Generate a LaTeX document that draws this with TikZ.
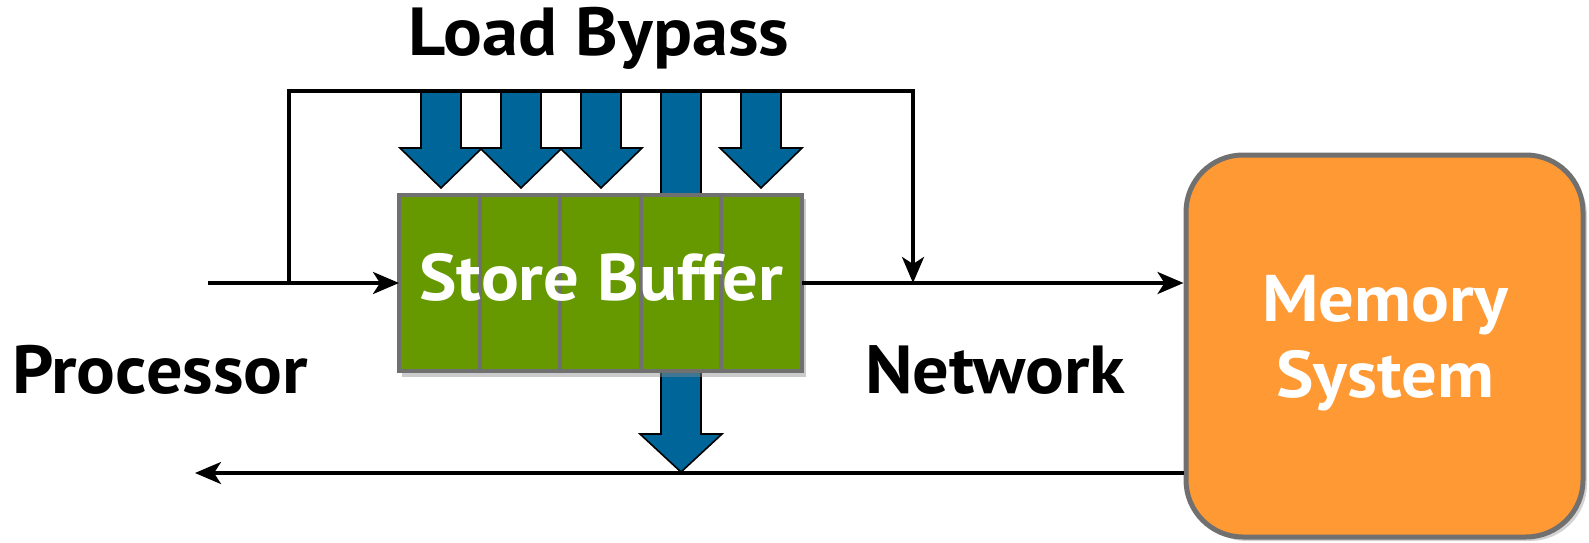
\documentclass[tikz,border=0pt]{standalone}
\usepackage{fontspec}
\setmainfont{PT Sans}
\usetikzlibrary{arrows.meta,shadows}

\definecolor{sbgreen}{HTML}{669900}
\definecolor{sbgray}{HTML}{707070}
\definecolor{bypassblue}{HTML}{006699}
\definecolor{memorange}{HTML}{FF9933}

\tikzset{
  wire/.style={line width=3.5pt, -{Stealth[length=26pt, width=22pt, inset=7pt]}},
  cell/.style={draw=sbgray, fill=sbgreen, line width=4pt, minimum width=80.6pt,
               minimum height=176pt, inner sep=0pt, outer sep=0pt},
  membox/.style={draw=sbgray, fill=memorange, line width=5pt, rounded corners=57pt,
                 minimum width=397pt, minimum height=382pt, inner sep=0pt,
                 drop shadow={shadow xshift=4pt, shadow yshift=-4pt, opacity=0.35}},
  bigbold/.style={font=\fontsize{68}{72}\selectfont\bfseries, text=black, inner sep=0pt, xscale=1.065},
  whitelabel/.style={font=\fontsize{66}{76}\selectfont\bfseries, text=white, align=center,
                     inner sep=0pt, xscale=1.07},
  bluearr/.style={fill=bypassblue, draw=black, line width=1.6pt, line join=miter},
}

% fat downward arrow: centre x, top y, head top y, tip y
\newcommand{\fatdown}[4]{%
  \draw[bluearr] (#1-20,#2) -- (#1-20,#3) -- (#1-41,#3) -- (#1,#4)
    -- (#1+41,#3) -- (#1+20,#3) -- (#1+20,#2) -- cycle;}

\begin{document}
\begin{tikzpicture}[x=1pt,y=-1pt]
  \useasboundingbox (0,0) rectangle (1589,543);

  % long bypass arrow passing behind the buffer down to the return path
  \fatdown{681}{91}{434}{472}

  % soft shadow under the store buffer
  \fill[black!45, opacity=0.45] (402,199) rectangle (806,377);
  % store buffer entries
  \foreach \i in {1,...,5} {
    \node[cell, anchor=north west] (c\i) at ({399+80.6*(\i-1)},195) {};
  }
  \node[whitelabel] (sb) at (601,277) {Store Buffer};

  % memory system
  \node[membox] (mem) at (1384.5,346) {};
  \node[whitelabel] (memtext) at (1385,343) {Memory\\System};

  % bypass arrows feeding the buffer entries
  \fatdown{441}{91}{148}{188}
  \fatdown{521}{91}{148}{188}
  \fatdown{601}{91}{148}{188}
  \fatdown{761}{91}{148}{188}

  % connection points
  \coordinate (in) at (208,283);
  \coordinate (split) at (289,283);
  \coordinate (tl) at (289,91);
  \coordinate (tr) at (913,91);
  \coordinate (merge) at (913,283);
  \coordinate (back) at (195,473);

  % request path
  \draw[wire] (in) -- (c1.west |- in);
  \draw[wire] (c5.east |- in) -- (mem.west |- in);
  \draw[wire] (split) -- (tl) -- (tr) -- (merge);

  % response path
  \draw[wire] (mem.west |- back) -- (back);

  % labels
  \node[bigbold] (lb) at (599,38) {Load Bypass};
  \node[bigbold, anchor=base west] (proc) at (12,393) {Processor};
  \node[bigbold, anchor=base west] (net) at (865,393) {Network};
\end{tikzpicture}
\end{document}
